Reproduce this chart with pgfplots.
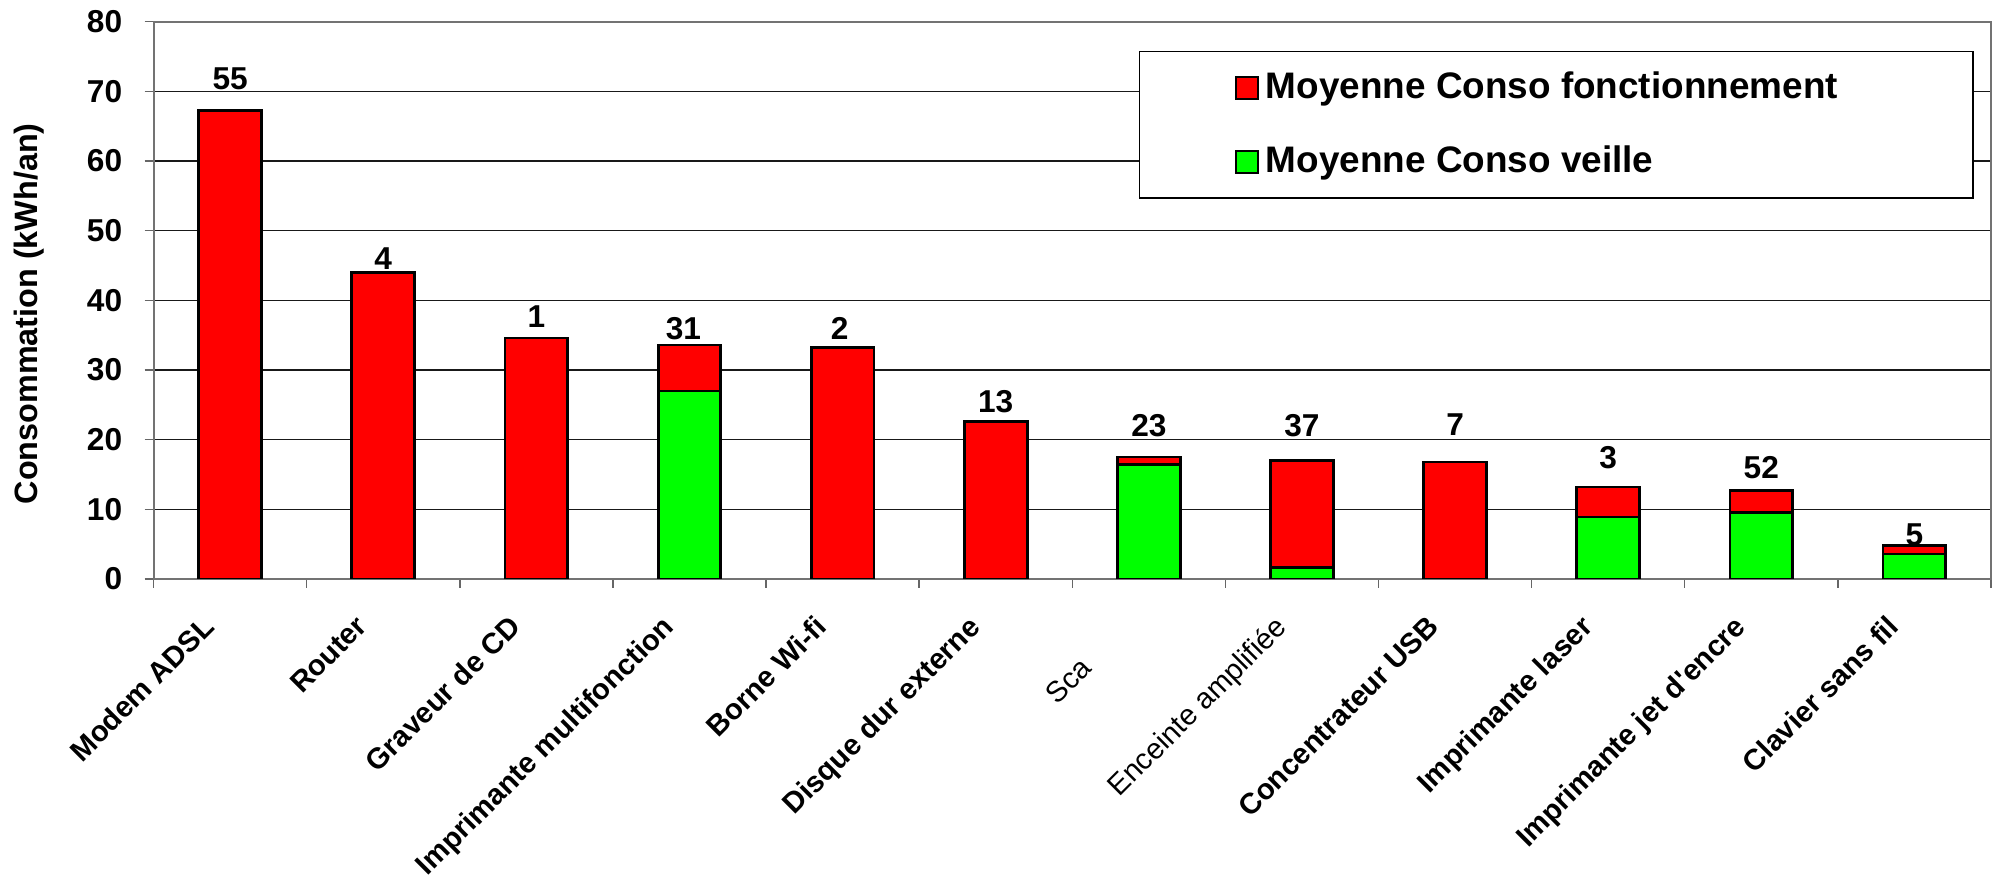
\documentclass[border=0pt]{standalone}
\usepackage{fontspec}
\setmainfont{Liberation Sans}[Ligatures=TeXOff]
\usepackage{pgfplots}
\usepackage{pgfplotstable}
\pgfplotsset{compat=1.18}
\definecolor{fonct}{RGB}{255,0,0}
\definecolor{veille}{RGB}{0,255,0}

% Consommation moyenne par appareil (kWh/an)
% col: 0 Modem ADSL ... 11 Clavier sans fil
\pgfplotstableread{
x veille fonct
0  0.0  67.2
1  0.0  44.0
2  0.0  34.6
3  27.0 6.6
4  0.0  33.2
5  0.0  22.6
6  16.4 1.1
7  1.6  15.45
8  0.0  16.8
9  8.9  4.3
10 9.6  3.1
11 3.6  1.16
}\conso

\begin{document}
\begin{tikzpicture}
\begin{axis}[
  scale only axis,
  width=18.374cm, height=5.573cm,
  ybar stacked, bar width=0.41,
  xmin=-0.5, xmax=11.5, ymin=0, ymax=80,
  ytick={0,10,...,80},
  xtick={0,...,11},
  xticklabels={
    {\bfseries Modem ADSL},
    {\bfseries Router},
    {\bfseries Graveur de CD},
    {\bfseries Imprimante multifonction},
    {\bfseries Borne Wi-fi},
    {\bfseries Disque dur externe},
    {Sca\phantom{nner}},
    {Enceinte amplifiée},
    {\bfseries Concentrateur USB},
    {\bfseries Imprimante laser},
    {\bfseries Imprimante jet d'encre},
    {\bfseries Clavier sans fil}},
  minor xtick={-0.5,0.5,...,11.5},
  major x tick style={draw=none},
  minor x tick style={draw=black!60, line width=0.4pt},
  minor tick length=0.9mm,
  major tick length=0.9mm,
  tick align=outside,
  tick pos=left,
  ytick style={draw=black!60, line width=0.4pt},
  axis line style={draw=black!55, line width=0.6pt},
  ymajorgrids,
  major grid style={draw=black!90, line width=0.4pt},
  /pgf/number format/assume math mode=true,
  yticklabel style={font=\bfseries\fontsize{9}{10}\selectfont, xshift=-1.0mm},
  xticklabel style={font=\fontsize{8.3}{10}\selectfont, yshift=-2.5mm, xshift=-2.9mm, rotate=45, anchor=north east, inner sep=0pt},
  every axis y label/.style={at={(rel axis cs:-0.068,0.476)}, rotate=90, anchor=center,
    font=\bfseries\fontsize{9.2}{11}\selectfont},
  ylabel={Consommation (kWh/an)},
  reverse legend,
  legend style={at={(0.5363,0.9474)}, anchor=north west, draw=black, line width=0.4pt,
    font=\bfseries\fontsize{10.5}{12}\selectfont, inner xsep=9.5mm, inner ysep=1.3mm,
    row sep=2.8mm},
  legend cell align=left,
  legend image code/.code={\draw[#1, line width=0.6pt] (0cm,-0.11cm) rectangle (0.22cm,0.11cm);},
]
\addplot[fill=veille, draw=black, line width=0.8pt] table[x=x, y=veille] {\conso};
\addlegendentry{\makebox[6.05cm][l]{Moyenne Conso veille}}
\addplot[fill=fonct, draw=black, line width=0.8pt] table[x=x, y=fonct] {\conso};
\addlegendentry{\makebox[6.05cm][l]{Moyenne Conso fonctionnement}}

% nombre d'appareils mesurés, au-dessus de chaque barre
\node[font=\bfseries\fontsize{9}{10}\selectfont] at (axis cs:0,71.8) {55};
\node[font=\bfseries\fontsize{9}{10}\selectfont] at (axis cs:1,46.0) {4};
\node[font=\bfseries\fontsize{9}{10}\selectfont] at (axis cs:2,37.6) {1};
\node[font=\bfseries\fontsize{9}{10}\selectfont] at (axis cs:2.96,35.9) {31};
\node[font=\bfseries\fontsize{9}{10}\selectfont] at (axis cs:3.98,35.9) {2};
\node[font=\bfseries\fontsize{9}{10}\selectfont] at (axis cs:5,25.4) {13};
\node[font=\bfseries\fontsize{9}{10}\selectfont] at (axis cs:6,22.0) {23};
\node[font=\bfseries\fontsize{9}{10}\selectfont] at (axis cs:7,22.0) {37};
\node[font=\bfseries\fontsize{9}{10}\selectfont] at (axis cs:8,22.1) {7};
\node[font=\bfseries\fontsize{9}{10}\selectfont] at (axis cs:9,17.4) {3};
\node[font=\bfseries\fontsize{9}{10}\selectfont] at (axis cs:10,16.0) {52};
\node[font=\bfseries\fontsize{9}{10}\selectfont] at (axis cs:11,6.3) {5};
\end{axis}
\pgfresetboundingbox
\useasboundingbox (-1.536cm,-2.97cm) rectangle (18.464cm,5.79cm);
\end{tikzpicture}
\end{document}
